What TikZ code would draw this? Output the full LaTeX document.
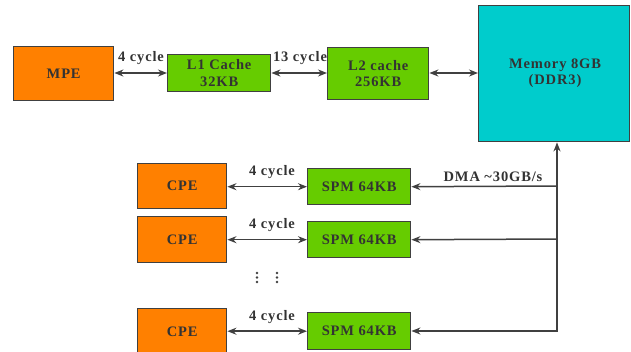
\documentclass[tikz,border=0pt]{standalone}
\usepackage{fontspec}
\setmainfont{Liberation Serif}
\newfontfamily\wideserif[LetterSpace=6]{Liberation Serif}
\usetikzlibrary{arrows.meta}
\definecolor{txt}{HTML}{333333}
\definecolor{bord}{HTML}{404040}
\definecolor{orng}{HTML}{FF8000}
\definecolor{grn}{HTML}{66CC00}
\definecolor{cyn}{HTML}{00CCCC}
\tikzset{
  box/.style={draw=bord, line width=1.4pt, text=txt, font=\wideserif\bfseries\fontsize{14.5}{16.5}\selectfont, align=center, inner sep=0pt, anchor=north west},
  lbl/.style={text=txt, font=\wideserif\bfseries\fontsize{14.5}{16.5}\selectfont, inner sep=0pt},
  conn/.style={draw=bord, line width=1.5pt},
  tip/.style={-{Stealth[length=9pt,width=7pt]}},
  tips/.style={{Stealth[length=9pt,width=7pt]}-{Stealth[length=9pt,width=7pt]}},
  dot/.style={fill=bord, draw=none}
}
\begin{document}
\begin{tikzpicture}[x=1pt,y=-1pt]
\useasboundingbox (0,0) rectangle (631,351);
% top row
\node[box, fill=orng, minimum width=100pt, minimum height=54pt] (mpe) at (13,46) {MPE};
\node[box, fill=grn, minimum width=103pt, minimum height=37pt] (l1) at (167,54) {L1 Cache\\32KB};
\node[box, fill=grn, minimum width=101pt, minimum height=52pt] (l2) at (327,47) {L2 cache\\256KB};
\node[box, fill=cyn, minimum width=151pt, minimum height=136pt] (mem) at (478,5) {};
\node[lbl, align=center] (memtxt) at (555,73) {Memory 8GB\\(DDR3)};
% bottom rows
\node[box, fill=orng, minimum width=89pt, minimum height=45pt] (cpe1) at (137,163) {CPE};
\node[box, fill=grn, minimum width=103pt, minimum height=36pt] (spm1) at (307,168) {SPM 64KB};
\node[box, fill=orng, minimum width=89pt, minimum height=46pt] (cpe2) at (137,216) {CPE};
\node[box, fill=grn, minimum width=103pt, minimum height=36pt] (spm2) at (307,221) {SPM 64KB};
\node[box, fill=orng, minimum width=89pt, minimum height=46pt] (cpe3) at (137,308) {CPE};
\node[box, fill=grn, minimum width=103pt, minimum height=37pt] (spm3) at (307,312) {SPM 64KB};
% top connectors
\draw[conn, tips] (mpe.east |- 0,73) -- (l1.west |- 0,73);
\draw[conn, tips] (l1.east |- 0,73) -- (l2.west |- 0,73);
\draw[conn, tips] (l2.east |- 0,73) -- (mem.west |- 0,73);
\node[lbl] (c1) at (141,58) {4 cycle};
\node[lbl] (c2) at (300,58) {13 cycle};
% CPE-SPM
\draw[conn, tips] (cpe1.east |- spm1.west) -- (spm1.west);
\draw[conn, tips] (cpe2.east |- spm2.west) -- (spm2.west);
\draw[conn, tips] (cpe3.east |- spm3.west) -- (spm3.west);
\node[lbl] (c3) at (272,172) {4 cycle};
\node[lbl] (c4) at (272,225) {4 cycle};
\node[lbl] (c5) at (272,317) {4 cycle};
% DMA bus
\coordinate (b1) at (557,186);
\coordinate (b2) at (557,239);
\coordinate (b3) at (557,331);
\draw[conn, tips, line join=miter] (spm3.east |- b3) -- (b3) -- (b3 |- mem.south);
\draw[conn, tip] (b1) -- (spm1.east);
\draw[conn, tip] (b2) -- (spm2.east);
\node[lbl] (dma) at (493,177) {DMA \textasciitilde30GB/s};
% dots
\foreach \dx in {257,277} {
  \foreach \dy in {273,277.5,282} {
    \fill[dot] (\dx,\dy) circle (1.4pt);
  }
}
\end{tikzpicture}
\end{document}
